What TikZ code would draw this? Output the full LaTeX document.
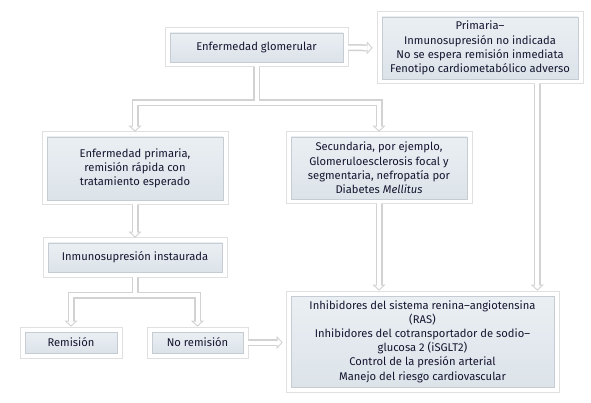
\documentclass[tikz,border=0pt]{standalone}
\usepackage{fontspec}
\setmainfont{Fira Sans}
\usetikzlibrary{arrows.meta}
\definecolor{txt}{HTML}{151530}
\definecolor{boxline}{HTML}{C5CCD3}
\definecolor{outerline}{HTML}{E0E0E0}
\definecolor{filltop}{HTML}{EAEFF3}
\definecolor{fillbot}{HTML}{DCE3E9}
\definecolor{arrowc}{HTML}{D2D2D2}
\begin{document}
\begin{tikzpicture}[x=1pt,y=-1pt,
  box/.style={rectangle, inner sep=0pt, align=center, text=txt,
    font=\fontsize{11.2}{14.2}\selectfont,
    draw=boxline, line width=0.6pt, top color=filltop, bottom color=fillbot,
    preaction={draw=outerline, line width=11pt},
    preaction={draw=white, line width=9pt}},
  conout/.style={draw=arrowc, line width=7pt, shorten <=5pt,
    -{Triangle[length=6pt,width=13pt,line width=0pt]}},
  conin/.style={draw=white, line width=4pt, shorten <=4pt,
    -{Triangle[length=3.6pt,width=8pt,line width=0pt]}}
]
\useasboundingbox (0,0) rectangle (591,403);

\node[box, minimum width=173pt, minimum height=29pt] (glom) at (256.5,47.5) {Enfermedad glomerular};
\node[box, minimum width=196pt, minimum height=62pt] (prim) at (480,48)
  {Primaria--\\Inmunosupresión no indicada\\No se espera remisión inmediata\\Fenotipo cardiometabólico adverso};
\node[box, minimum width=176pt, minimum height=63pt] (enfprim) at (135,168.5)
  {Enfermedad primaria,\\remisión rápida con\\tratamiento esperado};
\node[box, minimum width=176pt, minimum height=62pt] (sec) at (379,168)
  {Secundaria, por ejemplo,\\Glomeruloesclerosis focal y\\segmentaria, nefropatía por\\Diabetes \textit{Mellitus}};
\node[box, minimum width=174pt, minimum height=29pt] (inmuno) at (135,257.5) {Inmunosupresión instaurada};
\node[box, minimum width=92pt, minimum height=21pt] (rem) at (71,342.5) {Remisión};
\node[box, minimum width=91pt, minimum height=21pt] (norem) at (197.5,342.5) {No remisión};
\node[box, minimum width=263pt, minimum height=91pt] (final) at (422.5,341.5)
  {Inhibidores del sistema renina--angiotensina\\(RAS)\\Inhibidores del cotransportador de sodio--\\glucosa 2 (iSGLT2)\\Control de la presión arterial\\Manejo del riesgo cardiovascular};

\coordinate (j1) at (256.5,103);
\coordinate (j2) at (135,295);
\coordinate (pa) at ([xshift=-41pt]prim.south east);

\foreach \s/\e in {conout/9pt, conin/10.5pt}{
  \draw[\s, shorten >=\e] (glom.east) -- (prim.west);
  \draw[\s, shorten >=\e-4pt] (glom.south) -- (j1) -| (enfprim.north);
  \draw[\s, shorten >=\e-4pt, shorten <=0pt] (j1) -| (sec.north);
  \draw[\s, shorten >=\e-4pt] (enfprim.south) -- (inmuno.north);
  \draw[\s, shorten >=\e-4pt] (inmuno.south) -- (j2) -| (rem.north);
  \draw[\s, shorten >=\e-4pt, shorten <=0pt] (j2) -| (norem.north);
  \draw[\s, shorten >=\e-1pt] (norem.east) -- (norem.east -| final.west);
  \draw[\s, shorten >=\e-4pt] (sec.south) -- (sec.south |- final.north);
  \draw[\s, shorten >=\e-4pt] (pa) -- (pa |- final.north);
}
\end{tikzpicture}
\end{document}
